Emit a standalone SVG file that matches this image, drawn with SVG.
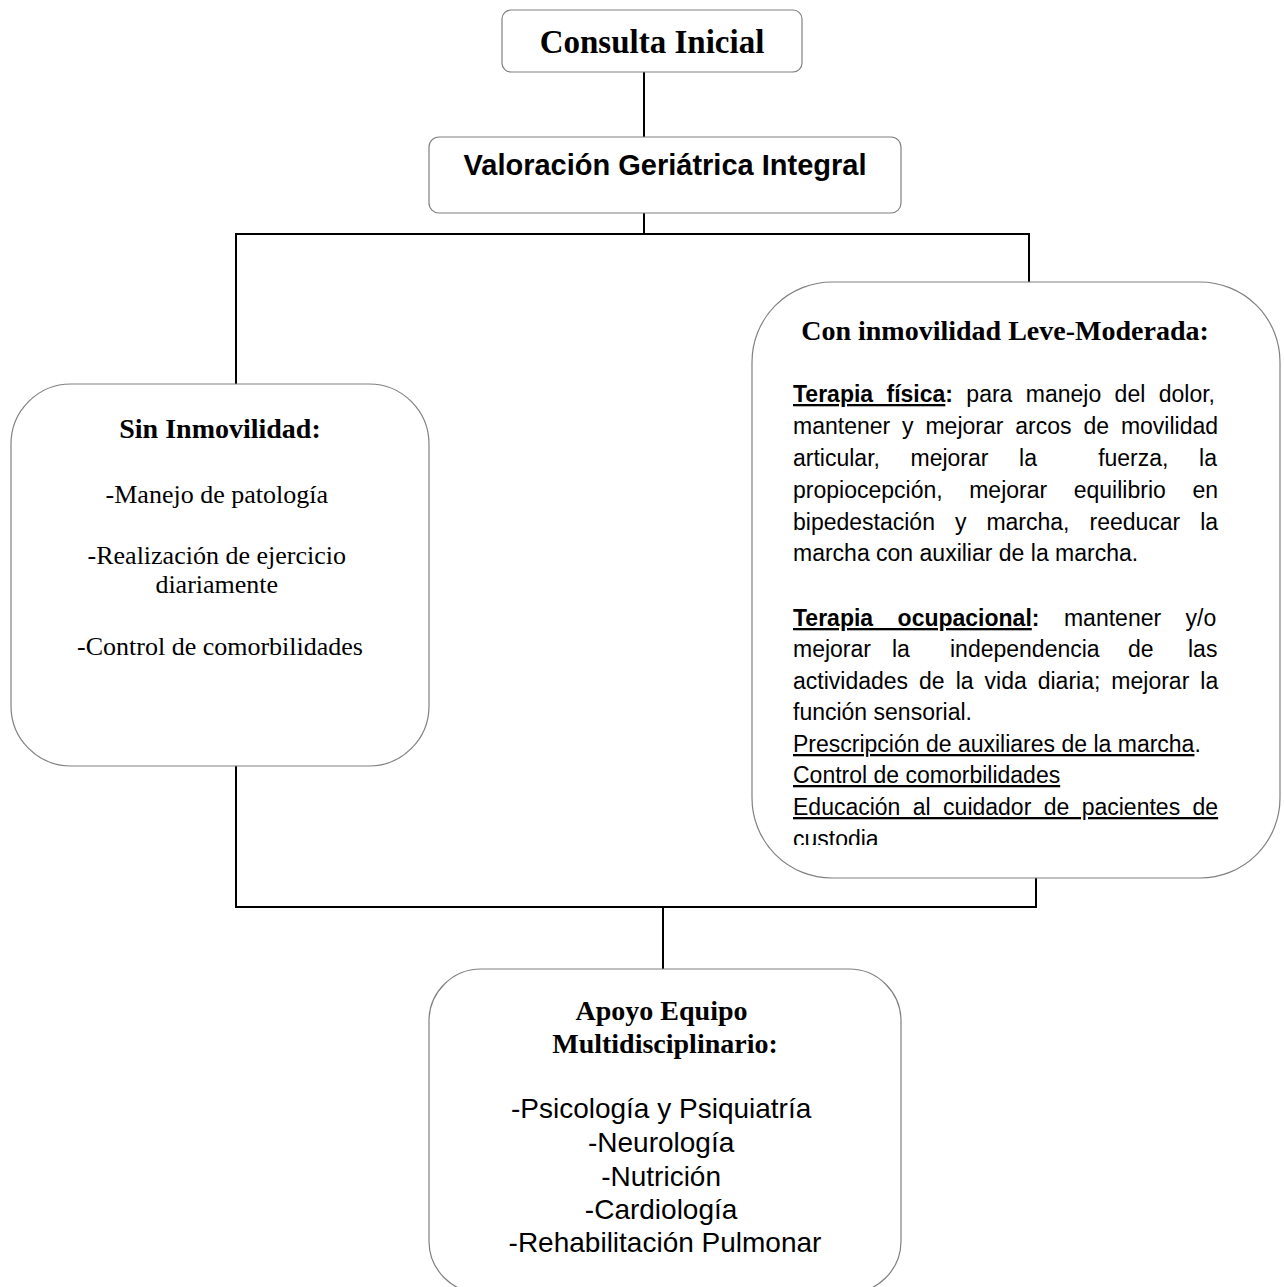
<svg xmlns="http://www.w3.org/2000/svg" width="1284" height="1287" viewBox="0 0 1284 1287">
<style>
.box{fill:#fff;stroke:#808080;stroke-width:1.2}
.con{fill:none;stroke:#000;stroke-width:2}
.serif{font-family:"Liberation Serif","Times New Roman",serif;fill:#000}
.sans{font-family:"Liberation Sans",Arial,sans-serif;fill:#000}
.b{font-weight:bold}
.u{text-decoration:underline}
.p{font-family:"Liberation Sans",Arial,sans-serif;font-size:23px;fill:#000}
</style>
<defs>
<clipPath id="clipR"><rect x="752" y="282" width="528" height="563"/></clipPath>
</defs>
<rect width="1284" height="1287" fill="#fff"/>
<g id="connectors">
<path class="con" d="M644 72V137M644 213V234M236 234H1029M236 233V384M1029 233V282M236 766V907M1036 878V907M235 907H1037M663 907V969"/>
</g>
<g id="consulta">
<rect class="box" x="502" y="10" width="300" height="62" rx="9"/>
<text class="serif b" x="652" y="53" font-size="33" text-anchor="middle">Consulta Inicial</text>
</g>
<g id="valoracion">
<rect class="box" x="429" y="137" width="472" height="76" rx="10"/>
<text class="sans b" x="665" y="175" font-size="29" text-anchor="middle">Valoración Geriátrica Integral</text>
</g>
<g id="sin-inmovilidad">
<rect class="box" x="11" y="384" width="418" height="382" rx="60"/>
<text class="serif b" x="220" y="438" font-size="28" text-anchor="middle">Sin Inmovilidad:</text>
<text class="serif" font-size="26" text-anchor="middle">
<tspan x="220" y="503">-Manejo de patología</tspan>
<tspan x="220" y="564">-Realización de ejercicio</tspan>
<tspan x="220" y="593">diariamente</tspan>
<tspan x="220" y="655">-Control de comorbilidades</tspan>
</text>
</g>
<g id="con-inmovilidad">
<rect class="box" x="752" y="282" width="528" height="596" rx="80"/>
<text class="serif b" x="1005" y="340" font-size="28" text-anchor="middle">Con inmovilidad Leve-Moderada:</text>
<g clip-path="url(#clipR)">
<text class="p" x="793" y="402" word-spacing="7"><tspan class="b u">Terapia física</tspan><tspan class="b">:</tspan> para manejo del dolor,</text>
<text class="p" x="793" y="434" word-spacing="5.5">mantener y mejorar arcos de movilidad</text>
<text class="p" x="793" y="466" word-spacing="24.2" xml:space="preserve">articular, mejorar la  fuerza, la</text>
<text class="p" x="793" y="498" word-spacing="20.2">propiocepción, mejorar equilibrio en</text>
<text class="p" x="793" y="530" word-spacing="13.6">bipedestación y marcha, reeducar la</text>
<text class="p" x="793" y="561">marcha con auxiliar de la marcha.</text>
<text class="p" x="793" y="626" word-spacing="18.1"><tspan class="b u">Terapia ocupacional</tspan><tspan class="b">:</tspan> mantener y/o</text>
<text class="p" y="657"><tspan x="793">mejorar</tspan> <tspan x="892">la</tspan> <tspan x="950">independencia</tspan> <tspan x="1128">de</tspan> <tspan x="1188">las</tspan></text>
<text class="p" x="793" y="689" word-spacing="4.6">actividades de la vida diaria; mejorar la</text>
<text class="p" x="793" y="720">función sensorial.</text>
<text class="p" x="793" y="752"><tspan class="u">Prescripción de auxiliares de la marcha</tspan>.</text>
<text class="p" x="793" y="783"><tspan class="u">Control de comorbilidades</tspan></text>
<text class="p" x="793" y="815" word-spacing="6"><tspan class="u">Educación al cuidador de pacientes de</tspan></text>
<text class="p" x="793" y="847"><tspan class="u">custodia</tspan></text>
</g>
</g>
<g id="apoyo">
<rect class="box" x="429" y="969" width="472" height="324" rx="52"/>
<text class="serif b" font-size="28" text-anchor="middle">
<tspan x="665" y="1020">Apoyo Equipo</tspan>
<tspan x="665" y="1053">Multidisciplinario:</tspan>
</text>
<text class="sans" font-size="28" text-anchor="middle">
<tspan x="665" y="1118">-Psicología y Psiquiatría</tspan>
<tspan x="665" y="1152">-Neurología</tspan>
<tspan x="665" y="1186">-Nutrición</tspan>
<tspan x="665" y="1219">-Cardiología</tspan>
<tspan x="665" y="1252">-Rehabilitación Pulmonar</tspan>
</text>
</g>
</svg>
